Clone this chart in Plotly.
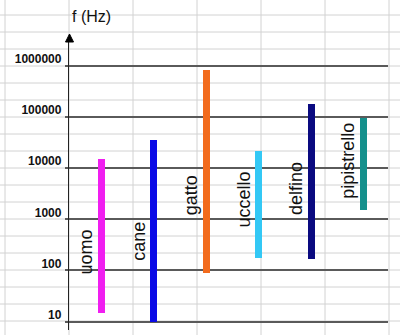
import math
import plotly.graph_objects as go

# ---------------- data ----------------
animals = ["uomo", "cane", "gatto", "uccello", "delfino", "pipistrello"]
f_low = [15, 10, 90, 175, 165, 1500]          # Hz
f_high = [15000, 35000, 850000, 22000, 180000, 95000]  # Hz
bar_colors = ["#f01ef0", "#0a0ae6", "#f26b1d", "#33c8f5", "#0a0a80", "#14908c"]
tick_vals = [10, 100, 1000, 10000, 100000, 1000000]
tick_text = ["10", "100", "1000", "10000", "100000", "1000000"]
label_y = [229, 376, 2990, 2390, 3920, 14300]  # label centre heights (Hz)

W, H = 400, 335
xs = list(range(len(animals)))

fig = go.Figure()
fig.add_trace(go.Bar(
    x=xs,
    y=[h - l for l, h in zip(f_low, f_high)],
    base=f_low,
    width=0.134,
    marker=dict(color=bar_colors, line=dict(width=0)),
    hoverinfo="skip",
    showlegend=False,
))

def px(x):
    return x / W

def py(y):
    return 1 - y / H

shapes = []
# spreadsheet cell grid in the background
for gx in [5, 69, 133, 197, 261, 325, 389]:
    shapes.append(dict(type="line", xref="paper", yref="paper",
                       x0=px(gx), x1=px(gx), y0=0, y1=1,
                       line=dict(color="#d2d2d2", width=1), layer="below"))
for k in range(20):
    gy = 15 + 17 * k
    shapes.append(dict(type="line", xref="paper", yref="paper",
                       x0=0, x1=1, y0=py(gy), y1=py(gy),
                       line=dict(color="#d2d2d2", width=1), layer="below"))
# arrow head on the y axis
shapes.append(dict(type="path", xref="paper", yref="paper",
                   path=f"M {px(69.5)} {py(34)} L {px(65.5)} {py(42)} L {px(73.5)} {py(42)} Z",
                   fillcolor="#000", line=dict(color="#000", width=1), layer="above"))

annotations = [dict(text="f (Hz)", xref="paper", yref="paper", x=px(91), y=py(16.5),
                    showarrow=False, xanchor="center", yanchor="middle",
                    font=dict(family="Liberation Sans, Arial", size=16, color="#111"))]
for i, (name, ly) in enumerate(zip(animals, label_y)):
    annotations.append(dict(text=name, x=i, y=math.log10(ly), xref="x", yref="y",
                            xshift=-15, showarrow=False, textangle=-90,
                            xanchor="center", yanchor="middle",
                            font=dict(family="Liberation Sans, Arial", size=18, color="#111")))

fig.update_layout(
    width=W, height=H,
    margin=dict(l=0, r=0, t=0, b=0),
    paper_bgcolor="white",
    plot_bgcolor="rgba(0,0,0,0)",
    shapes=shapes,
    annotations=annotations,
    bargap=0,
    xaxis=dict(domain=[69 / W, 388 / W], range=[-0.618, 5.469],
               showgrid=False, zeroline=False, showline=False,
               showticklabels=False, ticks="", fixedrange=True),
    yaxis=dict(type="log", domain=[1 - 330 / H, 1 - 42 / H],
               range=[0.8337, 6.4697],
               tickvals=tick_vals, ticktext=tick_text,
               showgrid=True, gridcolor="#5a5a5a", gridwidth=1.5,
               showline=True, linecolor="#222", linewidth=1.3,
               ticks="outside", ticklen=3, tickcolor="#5a5a5a", tickwidth=1.5,
               ticklabelshift=-7, ticklabelstandoff=1,
               tickfont=dict(family="Liberation Sans, Arial",
                             size=12, color="#111", weight="bold"),
               zeroline=False, fixedrange=True),
)

fig.write_html("out.html")
